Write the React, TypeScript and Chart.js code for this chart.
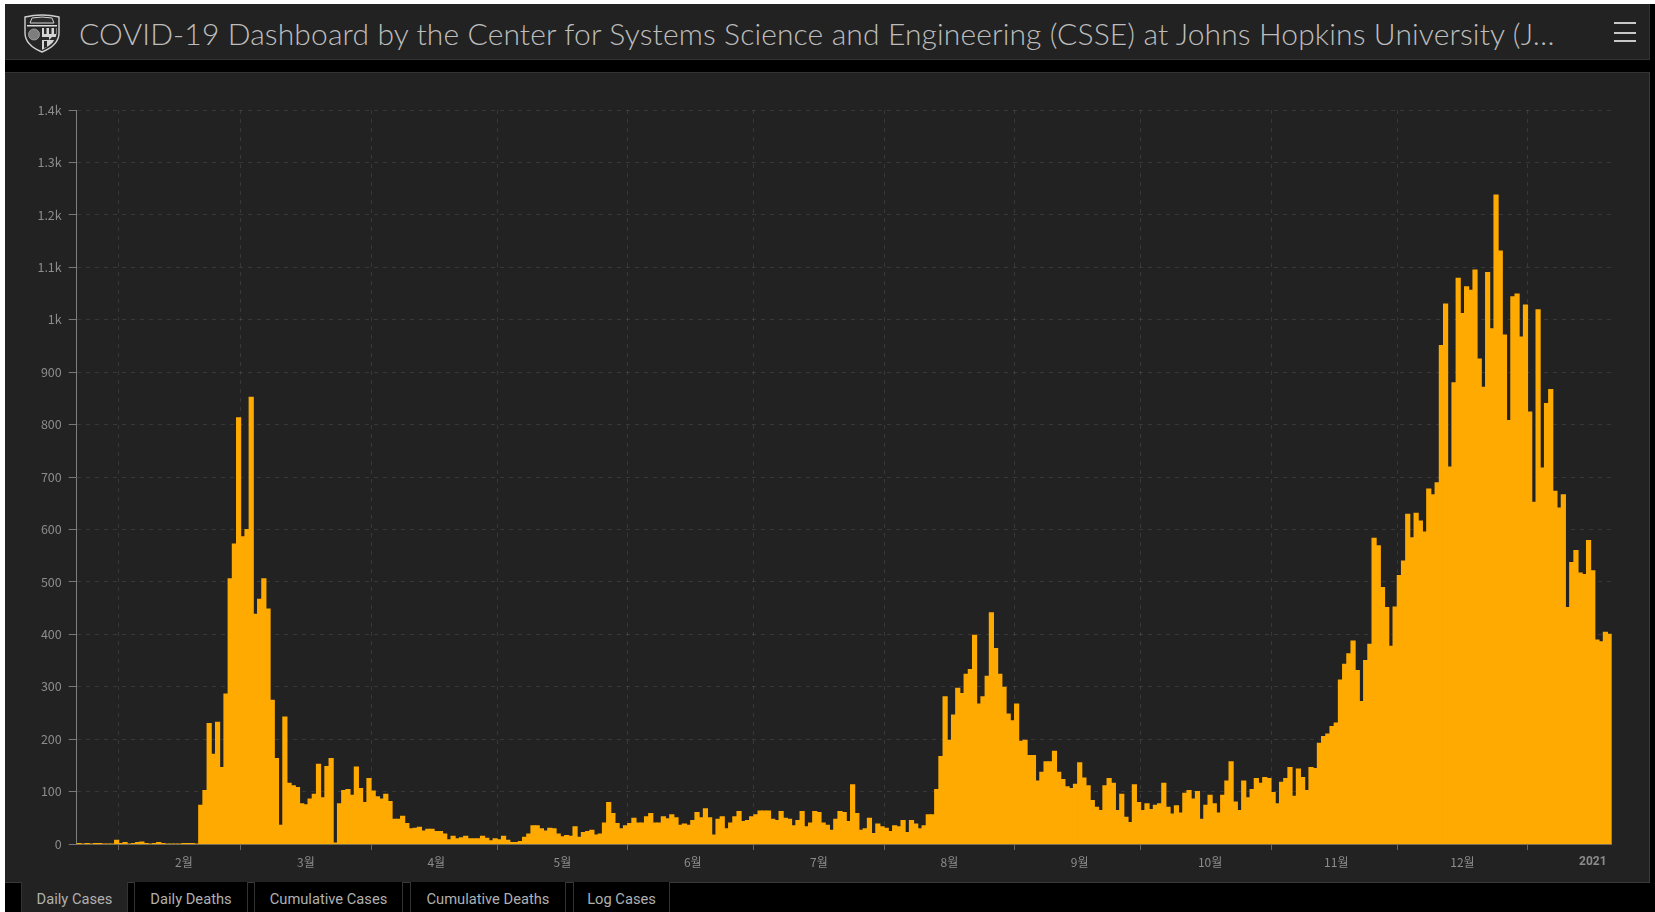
import React, { useEffect, useRef } from "react";
import { Chart, registerables } from "chart.js";

Chart.register(...registerables);

const jan2020 = [1, 0, 1, 0, 1, 1, 0, 0, 0, 7];
const feb2020 = [1, 3, 0, 1, 3, 4, 1, 0, 1, 3, 1, 0, 0, 0, 0, 1, 1, 1, 0, 74, 102, 230, 171, 232, 146, 286, 506, 572, 813];
const mar2020 = [586, 600, 852, 438, 467, 506, 448, 274, 163, 36, 242, 116, 111, 108, 77, 75, 86, 95, 152, 88, 148, 163, 2, 77, 102, 104, 93, 147, 106, 79, 125];
const apr2020 = [101, 90, 86, 95, 81, 47, 47, 53, 39, 29, 30, 32, 25, 28, 28, 24, 24, 19, 8, 15, 10, 12, 15, 10, 10, 10, 15, 11, 6, 10];
const may2020 = [8, 15, 7, 3, 3, 5, 13, 19, 35, 35, 29, 25, 30, 29, 19, 14, 16, 15, 33, 13, 22, 24, 26, 17, 19, 40, 79, 58, 39, 29, 35];
const jun2020 = [39, 49, 40, 40, 52, 58, 40, 40, 52, 48, 56, 50, 36, 38, 36, 45, 60, 50, 67, 50, 17, 47, 52, 29, 40, 52, 62, 43, 45, 52];
const jul2020 = [56, 63, 63, 63, 47, 45, 62, 49, 47, 35, 45, 62, 33, 40, 62, 60, 40, 36, 26, 47, 62, 60, 43, 113, 58, 26, 29, 49, 20, 38, 33];
const aug2020 = [30, 24, 35, 33, 45, 22, 45, 38, 29, 35, 56, 56, 104, 167, 281, 198, 246, 297, 287, 324, 333, 398, 267, 281, 320, 441, 373, 324, 299, 248, 235];
const sep2020 = [267, 196, 198, 169, 169, 120, 137, 157, 157, 177, 137, 123, 109, 106, 114, 155, 126, 111, 83, 70, 64, 111, 125, 116, 64, 95, 51, 41, 113, 79];
const oct2020 = [64, 77, 66, 74, 77, 116, 70, 57, 73, 59, 97, 102, 86, 100, 47, 74, 93, 77, 59, 93, 120, 157, 80, 64, 120, 88, 104, 125, 116, 127, 125];
const nov2020 = [98, 77, 118, 125, 146, 91, 143, 127, 102, 146, 144, 192, 205, 210, 224, 231, 313, 343, 363, 387, 331, 272, 350, 381, 583, 569, 489, 451, 377, 452];
const dec2020 = [512, 540, 629, 584, 631, 616, 595, 677, 666, 689, 951, 1030, 719, 880, 1079, 1012, 1063, 1056, 1095, 925, 871, 1090, 983, 1238, 1131, 971, 808, 1044, 1049, 967, 1028];
const jan2021 = [824, 652, 1019, 717, 840, 867, 673, 641, 666, 451, 537, 560, 517, 514, 579, 521, 389, 386, 404, 400];

const dailyCases = [
  ...jan2020, ...feb2020, ...mar2020, ...apr2020, ...may2020, ...jun2020, ...jul2020,
  ...aug2020, ...sep2020, ...oct2020, ...nov2020, ...dec2020, ...jan2021,
];

// Index of the first day of every month in the series (position of the vertical grid lines).
const monthStarts = [10, 39, 70, 100, 131, 161, 192, 223, 253, 284, 314, 345];
// Month captions and the day each is centred on.
const monthLabels = ["2월", "3월", "4월", "5월", "6월", "7월", "8월", "9월", "10월", "11월", "12월", "2021"];
const monthLabelDays = [25, 54, 85, 115, 146, 176, 207, 238, 269, 299, 329, 360];

const tabNames = ["Daily Cases", "Daily Deaths", "Cumulative Cases", "Cumulative Deaths", "Log Cases"];
const tabBoxes = [[21, 107], [134, 114], [254, 149], [410, 156], [573, 97]];

const days = dailyCases.map((_, i) => {
  const d = new Date(Date.UTC(2020, 0, 22 + i));
  return d.toISOString().slice(0, 10);
});

const yLabel = (v: number) => {
  if (v >= 1000) return `${+(v / 1000).toFixed(1)}k`;
  return `${v}`;
};

const Logo = () => (
  <svg width="38" height="40" viewBox="0 0 38 40" style={{ position: "absolute", left: 23, top: 13 }}>
    <path d="M2 4 Q19 0 36 4 L36 20 Q36 32 19 39 Q2 32 2 20 Z" fill="#262626" stroke="#cfcfcf" strokeWidth="1.4" />
    <path d="M9 5 Q19 3 29 5 L31 10 L7 10 Z" fill="#2c2c2c" stroke="#d5d5d5" strokeWidth="1" />
    <path d="M4 12 L34 12 L34 13.5 L4 13.5 Z" fill="#dcdcdc" />
    <circle cx="11" cy="21.5" r="5.5" fill="#7d7d7d" stroke="#a8a8a8" strokeWidth="0.8" />
    <path d="M19 15 H33.5 V21 Q33 30 19 37 Z" fill="#d4d4d4" />
    <path d="M21 15 H23.5 V21 H21 Z M26 15 H28.5 V21 H26 Z M31 15 H33 V21 H31 Z M19 24 L26 24 L26 27 L19 27 Z M26 27 H33 V24 H29 Z M21 28 H24 V34 L21 35 Z" fill="#2a2a2a" />
  </svg>
);

export default function App() {
  const ref = useRef<HTMLCanvasElement>(null);

  useEffect(() => {
    document.body.style.margin = "0";
    document.body.style.background = "#000";
    const isMonth = (i: number) => monthStarts.includes(i);
    const chart = new Chart(ref.current as HTMLCanvasElement, {
      type: "bar",
      data: {
        labels: days,
        datasets: [
          {
            label: "Daily Cases",
            data: dailyCases,
            backgroundColor: "#FFAA00",
            borderWidth: 0,
            inflateAmount: 0.5,
            barPercentage: 1,
            categoryPercentage: 1,
          },
        ],
      },
      options: {
        animation: false,
        responsive: false,
        layout: { padding: { top: 38, right: 38.3, left: 0, bottom: 0 } },
        plugins: { legend: { display: false }, tooltip: { enabled: false }, title: { display: false } },
        scales: {
          x: {
            type: "category",
            offset: true,
            afterFit: (s: any) => {
              s.height = 38;
            },
            grid: {
              offset: true,
              drawTicks: true,
              tickLength: 6,
              lineWidth: (c: any) => (isMonth(c.index) ? 1 : 0),
              tickWidth: (c: any) => (isMonth(c.index) ? 1 : 0),
              color: "rgba(255,255,255,0.1)",
              tickColor: "#666",
            },
            border: { display: true, color: "rgba(140,130,100,0.8)", dash: [4, 5], z: 1 },
            ticks: {
              autoSkip: false,
              maxRotation: 0,
              minRotation: 0,
              padding: 5,
              color: "#8c8c8c",
              font: (c: any) =>
                c.index === monthLabelDays[monthLabelDays.length - 1]
                  ? { family: "Roboto", size: 12, weight: "bold" }
                  : { family: "'Noto Sans CJK KR'", size: 12, weight: "normal" },
              callback: (_v: any, i: number) => {
                const k = monthLabelDays.indexOf(i);
                return k >= 0 ? monthLabels[k] : "";
              },
            },
          },
          y: {
            type: "linear",
            min: 0,
            max: 1400,
            afterFit: (s: any) => {
              s.width = 71.7;
            },
            grid: {
              tickLength: 8,
              color: (c: any) => (c.tick && c.tick.value === 0 ? "rgba(0,0,0,0)" : "rgba(255,255,255,0.1)"),
              tickColor: "#777",
            },
            border: { display: true, color: "#7f7f7f", dash: [4, 5] },
            ticks: {
              stepSize: 100,
              padding: 7,
              color: "#8c8c8c",
              font: { family: "'Noto Sans CJK KR'", size: 12.5 },
              callback: (v: any) => yLabel(Number(v)),
            },
          },
        },
      },
    } as any);
    return () => chart.destroy();
  }, []);

  return (
    <div style={{ position: "fixed", left: 0, top: 0, width: 1655, height: 912, background: "#fff", overflow: "hidden" }}>
      <div style={{ position: "absolute", left: 5, top: 4, width: 1650, height: 908, background: "#000" }} />
      <div
        style={{
          position: "absolute",
          left: 5,
          top: 4,
          width: 1645,
          height: 56,
          background: "#222",
          boxSizing: "border-box",
          borderBottom: "1px solid #333",
          borderRight: "1px solid #333",
        }}
      />
      <Logo />
      <div
        style={{
          position: "absolute",
          left: 79,
          top: 12,
          width: 1500,
          height: 42,
          lineHeight: "42px",
          fontFamily: "Lato, 'Open Sans', sans-serif",
          fontWeight: 300,
          fontSize: 30,
          letterSpacing: 0.13,
          color: "#bdbdbd",
          whiteSpace: "nowrap",
        }}
      >
        COVID-19 Dashboard by the Center for Systems Science and Engineering (CSSE) at Johns Hopkins University (J…
      </div>
      {[22, 32, 40].map((y) => (
        <div key={y} style={{ position: "absolute", left: 1614, top: y, width: 22, height: 2, background: "#c8c8c8" }} />
      ))}
      <div
        style={{
          position: "absolute",
          left: 5,
          top: 72,
          width: 1645,
          height: 811,
          background: "#222",
          boxSizing: "border-box",
          borderTop: "1px solid #333",
          borderRight: "1px solid #3a3a3a",
          borderBottom: "1px solid #3a3a3a",
        }}
      />
      <canvas ref={ref} width={1645} height={810} style={{ position: "absolute", left: 5, top: 72, width: 1645, height: 810 }} />
      {tabNames.map((name, i) => (
        <div
          key={name}
          style={{
            position: "absolute",
            left: tabBoxes[i][0],
            top: 882,
            width: tabBoxes[i][1],
            height: 30,
            boxSizing: "border-box",
            borderLeft: "1px solid #333",
            borderRight: "1px solid #333",
            background: i === 0 ? "#222" : "#000",
            color: "#b0b0b0",
            fontFamily: "Roboto, sans-serif",
            fontSize: 14.7,
            lineHeight: "34px",
            textAlign: "center",
          }}
        >
          {name}
        </div>
      ))}
    </div>
  );
}
